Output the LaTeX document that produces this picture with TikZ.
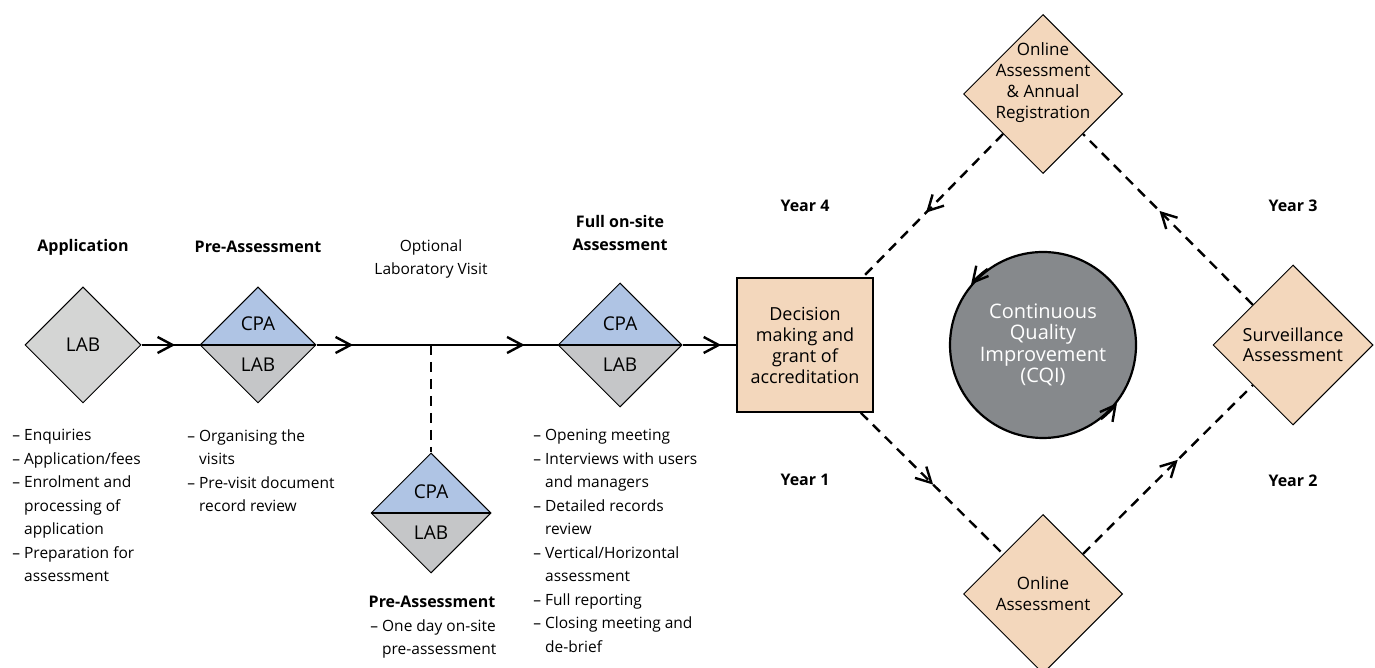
\documentclass[tikz,border=0pt]{standalone}
\usepackage{fontspec}
\setmainfont{Open Sans}
\usetikzlibrary{arrows.meta, shapes.geometric, decorations.markings}
\definecolor{LabG}  {HTML}{D4D5D4}
\definecolor{LabD}  {HTML}{C5C6C8}
\definecolor{CpaB}  {HTML}{AFC4E4}
\definecolor{Peach} {HTML}{F3D7BC}
\definecolor{CqiG}  {HTML}{86898C}
\newcommand{\lstind}{\hphantom{–\ }}
\tikzset{
  vtip/.tip={Straight Barb[length=7.5pt,width=8pt]},
  dia/.style args={#1/#2}{
    diamond, aspect=1, draw=black, fill=#1,
    line width=0.5pt, inner sep=0pt,
    minimum width=#2, minimum height=#2,
    font=\fontsize{9.5}{11}\selectfont, align=center,
  },
  splitdia/.style={
    dia=LabD/#1,
    path picture={
      \fill[CpaB] (path picture bounding box.north west) rectangle (path picture bounding box.east);
      \draw[line width=1.2pt] (path picture bounding box.west) -- (path picture bounding box.east);
    },
  },
  tag/.style={font=\fontsize{9.5}{11}\selectfont, inner sep=0pt},
  dtxt/.style={font=\fontsize{8.5}{10.5}\selectfont, align=center, inner sep=0pt},
  decbox/.style={
    rectangle, draw=black, fill=Peach, line width=0.75pt,
    minimum width=68pt, minimum height=67pt, inner sep=0pt,
    font=\fontsize{9}{10.5}\selectfont, align=center,
  },
  cqinode/.style={
    circle, draw=black, fill=CqiG, text=white, line width=1.1pt,
    minimum size=93pt, inner sep=0pt,
    font=\fontsize{10}{10.75}\selectfont, align=center,
  },
  ttl/.style={font=\fontsize{8}{11.5}\selectfont\bfseries, align=center, inner sep=0pt},
  note/.style={font=\fontsize{7.75}{11.5}\selectfont, align=center, inner sep=0pt},
  lst/.style={font=\fontsize{7.75}{11.75}\selectfont, align=left, inner sep=0pt, anchor=north west},
  mainln/.style={line width=1.2pt},
  dashln/.style={line width=1.2pt, dash pattern=on 5pt off 3.5pt},
  tipat/.style={postaction={decorate, decoration={markings, mark=at position #1 with {\arrow{vtip}}}}},
}
\begin{document}
\begin{tikzpicture}[x=0.5pt,y=0.5pt]
  \useasboundingbox (0,0) rectangle (1375,668);
  % stages
  \node[dia=LabG/58pt](app) at (83,323) {LAB};
  \node[splitdia=58pt](pre) at (258,323) {};
  \node[tag](preCPA) at ([yshift=10.5pt]pre.center) {CPA};
  \node[tag](preLAB) at ([yshift=-10pt]pre.center) {LAB};
  \node[splitdia=60pt](low) at (431,155) {};
  \node[tag](lowCPA) at ([yshift=10.5pt]low.center) {CPA};
  \node[tag](lowLAB) at ([yshift=-10pt]low.center) {LAB};
  \node[splitdia=62pt](full) at (620,323) {};
  \node[tag](fullCPA) at ([yshift=10.5pt]full.center) {CPA};
  \node[tag](fullLAB) at ([yshift=-10pt]full.center) {LAB};
  \node[decbox](dec) at (805,323) {Decision\\making and\\grant of\\accreditation};
  % cycle
  \node[cqinode](cqi) at (1043,323) {Continuous\\Quality\\Improvement\\(CQI)};
  \node[dia=Peach/79.5pt](topd) at (1043,574) {};
  \node[dtxt](topdT) at ([yshift=5.5pt]topd.center) {Online\\Assessment\\\& Annual\\Registration};
  \node[dia=Peach/80pt, font=\fontsize{9}{10}\selectfont](surv) at (1293,323) {Surveillance\\Assessment};
  \node[dia=Peach/79.5pt, font=\fontsize{8.5}{10.5}\selectfont](botd) at (1043,74) {Online\\Assessment};
  % titles
  \node[ttl](appT) at (83,421) {Application};
  \node[ttl](preT) at (258,421) {Pre-Assessment};
  \node[note](optT) at (431,409.5) {Optional\\Laboratory Visit};
  \node[ttl](fullT) at (620,434.5) {Full on-site\\Assessment};
  \node[ttl](lowT) at (432,66) {Pre-Assessment};
  \node[ttl](y4) at (805,462) {Year 4};
  \node[ttl](y3) at (1293,462) {Year 3};
  \node[ttl](y1) at (805,188) {Year 1};
  \node[ttl](y2) at (1293,187) {Year 2};
  % lists
  \node[lst](appL) at (12,239) {– Enquiries\\– Application/fees\\– Enrolment and\\\lstind processing of\\\lstind application\\– Preparation for\\\lstind assessment};
  \node[lst](preL) at (187,239) {– Organising the\\\lstind visits\\– Pre-visit document\\\lstind record review};
  \node[lst](fullL) at (533,239) {– Opening meeting\\– Interviews with users\\\lstind and managers\\– Detailed records\\\lstind review\\– Vertical/Horizontal\\\lstind assessment\\– Full reporting\\– Closing meeting and\\\lstind de-brief};
  \node[lst](lowL) at (370,49) {– One day on-site\\\lstind pre-assessment};
  % main line
  \coordinate (jn) at (pre.east -| low.north);
  \draw[mainln, tipat=0.58] (app.east) -- (pre.west);
  \draw[mainln, tipat=0.32] (pre.east) -- (jn);
  \draw[mainln, tipat=0.74] (jn) -- (full.west);
  \draw[mainln, tipat=0.72] (full.east) -- (dec.west);
  \draw[dashln] (jn) -- (low.north);
  % yearly loop
  \draw[dashln, tipat=0.55] (topd.south west) -- ([xshift=-5.5pt]dec.north east);
  \draw[dashln, tipat=0.51] ([xshift=-6.5pt]dec.south east) -- (botd.north west);
  \draw[dashln, tipat=0.56] (botd.north east) -- (surv.south west);
  \draw[dashln, tipat=0.55] (surv.north west) -- (topd.south east);
  \draw[mainln, -vtip] (cqi.126) arc[start angle=126, end angle=140, radius=93];
  \draw[mainln, -vtip] (cqi.-52) arc[start angle=-52, end angle=-38, radius=93];
\end{tikzpicture}
\end{document}
